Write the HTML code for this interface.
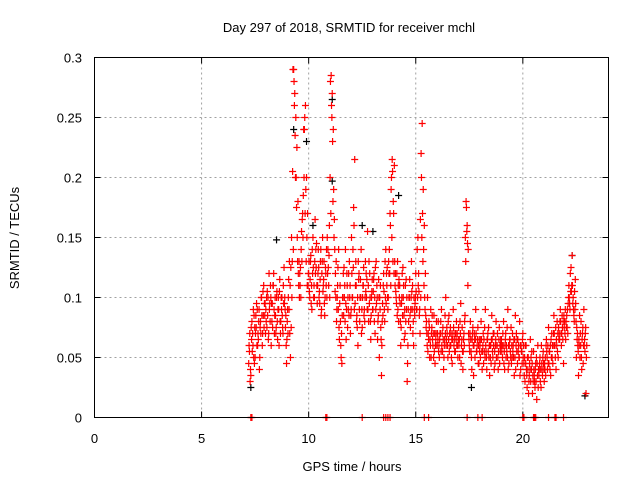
<!DOCTYPE html>
<html><head><meta charset="utf-8"><style>
html,body{margin:0;padding:0;background:#fff;}
svg{display:block;font-family:"Liberation Sans",sans-serif;}
</style></head><body>
<svg id="chart" width="640" height="480" viewBox="0 0 640 480" xmlns="http://www.w3.org/2000/svg">
<text x="349" y="32" font-size="13" text-anchor="middle">Day 297 of 2018, SRMTID for receiver mchl</text>
<text x="352" y="471" font-size="13" text-anchor="middle">GPS time / hours</text>
<text transform="translate(19,238) rotate(-90)" font-size="13" text-anchor="middle">SRMTID / TECUs</text>
<g id="grid"></g>
<g id="ticks"></g>
<g id="black-series"></g>
<g id="red-series"></g>
<rect x="94.5" y="57.5" width="514" height="360" fill="none" stroke="#000" stroke-width="1"/>
</svg>
<script>
const xTicks=[0,5,10,15,20];
const xTickLabels=["0","5","10","15","20"];
const yTicks=[0,0.05,0.1,0.15,0.2,0.25,0.3];
const yTickLabels=["0","0.05","0.1","0.15","0.2","0.25","0.3"];
const redHours=[
7.2,7.25,7.3,7.35,7.4,7.45,7.5,7.55,7.6,7.65,7.7,7.75,7.8,7.85,7.9,7.95,
8,8.05,8.1,8.15,8.2,8.25,8.3,8.35,8.4,8.45,8.5,8.55,8.6,8.65,8.7,8.75,8.8,8.85,8.9,8.95,
9,9.05,9.1,9.15,9.2,9.25,9.3,9.35,9.4,9.45,9.5,9.55,9.6,9.65,9.7,9.75,9.8,9.85,9.9,9.95,
10,10.05,10.1,10.15,10.2,10.25,10.3,10.35,10.4,10.45,10.5,10.55,10.6,10.65,10.7,10.75,10.8,10.85,10.9,10.95,
11,11.05,11.1,11.15,11.2,11.25,11.3,11.35,11.4,11.45,11.5,11.55,11.6,11.65,11.7,11.75,11.8,11.85,11.9,11.95,
12,12.05,12.1,12.15,12.2,12.25,12.3,12.35,12.4,12.45,12.5,12.55,12.6,12.65,12.7,12.75,12.8,12.85,12.9,12.95,
13,13.05,13.1,13.15,13.2,13.25,13.3,13.35,13.4,13.45,13.5,13.55,13.6,13.65,13.7,13.75,13.8,13.85,13.9,13.95,
14,14.05,14.1,14.15,14.2,14.25,14.3,14.35,14.4,14.45,14.5,14.55,14.6,14.65,14.7,14.75,14.8,14.85,14.9,14.95,
15,15.05,15.1,15.15,15.2,15.25,15.3,15.35,15.4,15.45,15.5,15.55,15.6,15.65,15.7,15.75,15.8,15.85,15.9,15.95,
16,16.05,16.1,16.15,16.2,16.25,16.3,16.35,16.4,16.45,16.5,16.55,16.6,16.65,16.7,16.75,16.8,16.85,16.9,16.95,
17,17.05,17.1,17.15,17.2,17.25,17.3,17.35,17.4,17.45,17.5,17.55,17.6,17.65,17.7,17.75,17.8,17.85,17.9,17.95,
18,18.05,18.1,18.15,18.2,18.25,18.3,18.35,18.4,18.45,18.5,18.55,18.6,18.65,18.7,18.75,18.8,18.85,18.9,18.95,
19,19.05,19.1,19.15,19.2,19.25,19.3,19.35,19.4,19.45,19.5,19.55,19.6,19.65,19.7,19.75,19.8,19.85,19.9,19.95,
20,20.05,20.1,20.15,20.2,20.25,20.3,20.35,20.4,20.45,20.5,20.55,20.6,20.65,20.7,20.75,20.8,20.85,20.9,20.95,
21,21.05,21.1,21.15,21.2,21.25,21.3,21.35,21.4,21.45,21.5,21.55,21.6,21.65,21.7,21.75,21.8,21.85,21.9,21.95,
22,22.05,22.1,22.15,22.2,22.25,22.3,22.35,22.4,22.45,22.5,22.55,22.6,22.65,22.7,22.75,22.8,22.85,22.9,22.95];
const redValues=[
0.045,0.07,0.035,0.08,0.06,0.085,0.05,0.075,0.09,0.065,0.04,0.08,0.1,0.07,0.11,0.085,
0.09,0.075,0.1,0.12,0.08,0.06,0.095,0.11,0.07,0.085,0.1,0.065,0.09,0.115,0.08,0.1,0.07,0.125,0.09,0.06,
0.08,0.1,0.13,0.05,0.15,0.205,0.29,0.27,0.25,0.225,0.18,0.13,0.11,0.14,0.165,0.185,0.24,0.26,0.2,0.17,
0.12,0.1,0.135,0.09,0.15,0.11,0.165,0.125,0.095,0.14,0.105,0.13,0.09,0.15,0.115,0.085,0.12,0.1,0.14,0.135,
0.2,0.285,0.27,0.24,0.165,0.12,0.08,0.11,0.14,0.095,0.06,0.045,0.1,0.125,0.08,0.065,0.11,0.09,0.13,0.07,
0.15,0.1,0.175,0.215,0.13,0.085,0.06,0.12,0.1,0.14,0.075,0.11,0.09,0.13,0.1,0.155,0.08,0.12,0.065,0.105,
0.09,0.12,0.07,0.13,0.1,0.085,0.05,0.11,0.035,0.095,0.12,0.08,0.14,0.11,0.09,0.12,0.17,0.19,0.215,0.18,
0.21,0.12,0.095,0.13,0.08,0.11,0.06,0.1,0.125,0.085,0.07,0.115,0.03,0.09,0.1,0.075,0.13,0.11,0.06,0.085,
0.12,0.09,0.15,0.105,0.07,0.22,0.245,0.19,0.16,0.12,0.08,0.1,0.065,0.05,0.09,0.075,0.06,0.085,0.045,0.07,
0.06,0.08,0.05,0.07,0.09,0.055,0.04,0.065,0.1,0.075,0.05,0.085,0.06,0.07,0.045,0.09,0.065,0.055,0.08,0.06,
0.075,0.05,0.095,0.065,0.04,0.07,0.085,0.18,0.16,0.14,0.06,0.08,0.05,0.07,0.035,0.065,0.09,0.055,0.075,0.045,
0.06,0.08,0.04,0.07,0.055,0.09,0.05,0.065,0.075,0.035,0.06,0.085,0.05,0.07,0.045,0.08,0.06,0.04,0.075,0.055,
0.065,0.05,0.08,0.04,0.07,0.055,0.09,0.045,0.065,0.075,0.05,0.06,0.035,0.085,0.07,0.045,0.06,0.08,0.04,0.055,
0.07,0.045,0.03,0.06,0.025,0.05,0.035,0.065,0.04,0.02,0.055,0.03,0.045,0.015,0.06,0.035,0.05,0.025,0.04,0.055,
0.03,0.05,0.065,0.04,0.075,0.055,0.035,0.07,0.045,0.085,0.06,0.04,0.08,0.05,0.07,0.09,0.06,0.075,0.045,0.08,
0.065,0.085,0.07,0.11,0.09,0.125,0.135,0.1,0.08,0.115,0.05,0.07,0.035,0.085,0.06,0.04,0.075,0.09,0.055,0.02];
const redValues2=[
0.06,0.03,0.075,0.055,0.09,0.045,0.07,0.095,0.06,0.08,0.05,0.07,0.085,0.105,0.075,0.095,
0.08,0.105,0.065,0.09,0.11,0.095,0.075,0.12,0.085,0.07,0.105,0.09,0.06,0.08,0.1,0.085,0.11,0.095,0.075,0.045,
0.09,0.115,0.07,0.125,0.1,0.29,0.28,0.235,0.2,0.15,0.12,0.1,0.125,0.155,0.17,0.24,0.25,0.19,0.15,0.11,
0.13,0.115,0.095,0.14,0.125,0.1,0.12,0.145,0.11,0.125,0.095,0.14,0.12,0.105,0.13,0.1,0.11,0.15,0.125,0.16,
0.28,0.26,0.23,0.19,0.14,0.1,0.09,0.125,0.075,0.11,0.05,0.085,0.12,0.1,0.14,0.09,0.075,0.12,0.1,0.085,
0.12,0.14,0.16,0.095,0.11,0.075,0.13,0.09,0.115,0.07,0.1,0.125,0.08,0.105,0.115,0.09,0.13,0.1,0.085,0.115,
0.105,0.08,0.125,0.095,0.065,0.115,0.1,0.075,0.06,0.085,0.105,0.13,0.095,0.125,0.1,0.14,0.16,0.2,0.205,0.17,
0.13,0.105,0.12,0.09,0.115,0.095,0.075,0.12,0.1,0.065,0.11,0.09,0.045,0.08,0.115,0.09,0.105,0.07,0.1,0.095,
0.105,0.14,0.11,0.085,0.165,0.2,0.17,0.14,0.1,0.085,0.07,0.055,0.08,0.065,0.05,0.085,0.07,0.055,0.06,0.08,
0.07,0.055,0.065,0.08,0.06,0.075,0.05,0.085,0.06,0.07,0.08,0.055,0.075,0.05,0.065,0.075,0.055,0.07,0.06,0.05,
0.06,0.08,0.045,0.075,0.055,0.06,0.15,0.175,0.145,0.07,0.055,0.065,0.04,0.075,0.06,0.05,0.07,0.06,0.045,0.065,
0.05,0.065,0.055,0.045,0.075,0.06,0.04,0.07,0.05,0.06,0.045,0.065,0.07,0.04,0.06,0.05,0.07,0.055,0.045,0.065,
0.055,0.07,0.045,0.06,0.05,0.075,0.04,0.06,0.055,0.045,0.07,0.05,0.065,0.04,0.055,0.065,0.05,0.035,0.06,0.045,
0.05,0.035,0.06,0.04,0.05,0.02,0.045,0.03,0.055,0.035,0.04,0.025,0.03,0.045,0.025,0.04,0.03,0.06,0.035,0.045,
0.045,0.035,0.055,0.06,0.045,0.04,0.065,0.05,0.06,0.07,0.05,0.065,0.055,0.075,0.065,0.08,0.07,0.065,0.085,0.07,
0.08,0.075,0.095,0.1,0.12,0.105,0.11,0.09,0.105,0.095,0.075,0.06,0.065,0.05,0.08,0.065,0.045,0.06,0.07,0.05];
const redValues3=[
0.055,0.04,0.065,0.07,0.05,0.075,0.085,0.06,0.07,0.09,0.075,0.1,0.06,0.085,0.095,0.07,
0.1,0.085,0.07,0.095,0.1,0.08,0.11,0.09,0.1,0.075,0.08,0.1,0.105,0.07,0.09,0.075,0.095,0.1,0.085,0.065,
0.07,0.09,0.11,0.075,0.13,0.14,0.26,0.2,0.175,0.13,0.11,0.12,0.1,0.13,0.15,0.2,0.17,0.13,0.11,0.12,
0.105,0.13,0.11,0.12,0.1,0.13,0.14,0.11,0.12,0.1,0.115,0.085,0.13,0.11,0.095,0.125,0.14,0.12,0.11,0.1,
0.17,0.25,0.18,0.15,0.105,0.13,0.1,0.09,0.065,0.08,0.07,0.1,0.085,0.11,0.095,0.12,0.1,0.085,0.11,0.09,
0.1,0.125,0.09,0.11,0.08,0.1,0.115,0.08,0.1,0.09,0.11,0.085,0.1,0.12,0.09,0.11,0.095,0.08,0.1,0.09,
0.115,0.1,0.09,0.11,0.08,0.1,0.09,0.065,0.08,0.11,0.09,0.1,0.12,0.1,0.13,0.12,0.11,0.15,0.13,0.12,
0.11,0.1,0.085,0.11,0.1,0.08,0.095,0.085,0.11,0.09,0.08,0.1,0.06,0.1,0.085,0.1,0.09,0.08,0.09,0.1,
0.09,0.1,0.12,0.09,0.1,0.15,0.13,0.11,0.09,0.075,0.06,0.07,0.075,0.06,0.07,0.065,0.05,0.07,0.065,0.06,
0.065,0.06,0.07,0.055,0.07,0.065,0.06,0.07,0.065,0.06,0.065,0.07,0.06,0.065,0.07,0.06,0.07,0.065,0.07,0.065,
0.065,0.07,0.06,0.055,0.065,0.08,0.13,0.155,0.11,0.065,0.07,0.055,0.065,0.06,0.07,0.065,0.055,0.065,0.06,0.055,
0.065,0.055,0.06,0.065,0.05,0.055,0.065,0.055,0.06,0.05,0.065,0.055,0.06,0.055,0.065,0.06,0.05,0.065,0.06,0.06,
0.06,0.06,0.055,0.065,0.06,0.05,0.06,0.065,0.05,0.06,0.055,0.065,0.05,0.06,0.065,0.055,0.05,0.06,0.055,0.065,
0.06,0.05,0.045,0.035,0.04,0.03,0.04,0.05,0.045,0.03,0.035,0.04,0.05,0.035,0.04,0.045,0.04,0.045,0.05,0.04,
0.04,0.06,0.05,0.045,0.055,0.06,0.05,0.06,0.07,0.06,0.075,0.06,0.07,0.065,0.08,0.07,0.085,0.08,0.075,0.09,
0.075,0.09,0.1,0.095,0.105,0.11,0.095,0.085,0.09,0.08,0.065,0.055,0.06,0.07,0.05,0.07,0.06,0.065,0.075,0.06];
const seriesTimeOffsets=[0,0.017,0.034];
const zeroHours=[7.3,7.35,10.8,10.85,12.5,13.5,13.6,13.7,13.8,15.4,15.6,17.4,17.9,18.1,20.0,20.05,20.5,20.55,20.6,21.2,21.5,21.55,21.9];
const blackHours=[7.3,8.5,9.3,9.9,10.2,11.1,11.1,12.5,13.0,14.2,17.6,22.3,22.9];
const blackValues=[0.025,0.148,0.24,0.23,0.16,0.265,0.197,0.16,0.155,0.185,0.025,0.135,0.018];

const NS="http://www.w3.org/2000/svg";
const L=94.5,R=608.5,T=57.5,B=417.5;
function xs(h){return L+(h/24)*(R-L);}
function ys(v){return B-(v/0.3)*(B-T);}
function mk(tag,attrs,parent){const e=document.createElementNS(NS,tag);for(const k in attrs)e.setAttribute(k,attrs[k]);parent.appendChild(e);return e;}
const grid=document.getElementById('grid'),ticks=document.getElementById('ticks');
xTicks.forEach((t,i)=>{
  const x=xs(t);
  if(t>0){const g=mk('line',{x1:x,y1:T,x2:x,y2:B,stroke:'#a0a0a0','stroke-dasharray':'2,3'},grid);
  
  }
  const a=mk('line',{x1:x,y1:B,x2:x,y2:B-6,stroke:'#000'},ticks);
  
  
  const b=mk('line',{x1:x,y1:T,x2:x,y2:T+6,stroke:'#000'},ticks);
  
  
  const tx=mk('text',{x:x,y:443,'font-size':13,'text-anchor':'middle'},ticks);tx.textContent=xTickLabels[i];
  
  
});
yTicks.forEach((t,i)=>{
  const y=ys(t);
  if(t>0&&t<0.3){const g=mk('line',{x1:L,y1:y,x2:R,y2:y,stroke:'#a0a0a0','stroke-dasharray':'2,3'},grid);
  
  }
  const a=mk('line',{x1:L,y1:y,x2:L+6,y2:y,stroke:'#000'},ticks);
  
  
  const b=mk('line',{x1:R,y1:y,x2:R-6,y2:y,stroke:'#000'},ticks);
  
  
  const tx=mk('text',{x:82,y:y+5,'font-size':13,'text-anchor':'end'},ticks);tx.textContent=yTickLabels[i];
  
  
});
function plus(h,v,color,parent){
  const x=xs(h),y=ys(v);
  const p=mk('path',{d:`M${x-3.5},${y}H${x+3.5}M${x},${y-3.5}V${y+3.5}`,stroke:color,'stroke-width':1.2,fill:'none'},parent);
  
  
}
const bg=document.getElementById('black-series'),rg=document.getElementById('red-series');
blackHours.forEach((h,i)=>plus(h,blackValues[i],'#000',bg));
[redValues,redValues2,redValues3].forEach((vals,s)=>{
  redHours.forEach((h,i)=>plus(h+seriesTimeOffsets[s],vals[i],'#ff0000',rg));
});
zeroHours.forEach(h=>plus(h,0,'#ff0000',rg));
</script>
</body></html>
